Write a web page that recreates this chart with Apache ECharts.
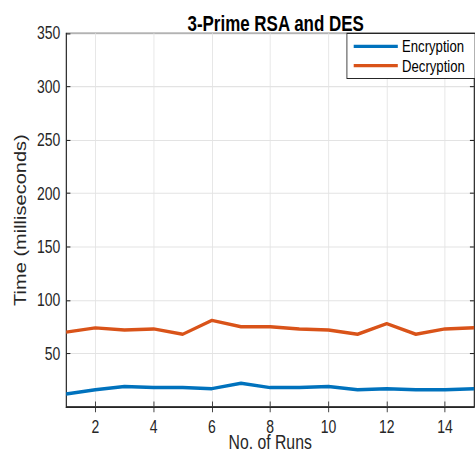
<!DOCTYPE html>
<html><head><meta charset="utf-8">
<script src="https://cdn.jsdelivr.net/npm/echarts@6/dist/echarts.min.js"></script>
<style>
html,body{margin:0;padding:0;background:#fff;overflow:hidden;width:475px;height:452px}
#c{width:560px;height:420px;transform:scale(0.848214,1.076190);transform-origin:0 0}
</style>
</head><body><div id="c"></div>
<script>
const runs = [1,2,3,4,5,6,7,8,9,10,11,12,13,14,15];
const encryption = [12,16,19,18,18,17,22,18,18,19,16,17,16,16,17];
const decryption = [70,74,72,73,68,81,75,75,73,72,68,78,68,73,74];
const xTicks = [2,4,6,8,10,12,14];
const yTicks = [50,100,150,200,250,300,350];

const txt = '#262626';
const font = 'Liberation Sans, Arial, Helvetica, sans-serif';
const chart = echarts.init(document.getElementById('c'), null, { renderer: 'svg', width: 560, height: 420 });
chart.setOption({
  animation: false,
  title: { text: '3-Prime RSA and DES', left: 320, textAlign: 'center', top: 7,
    textStyle: { fontFamily: font, fontSize: 20, fontWeight: 'bold', color: '#000' } },
  grid: { left: 78, right: 1, top: 31, bottom: 42, show: true, borderColor: txt, borderWidth: 1,
    backgroundColor: 'transparent', containLabel: false, outerBoundsMode: 'none' },
  legend: {
    left: 409, top: 31, orient: 'vertical',
    backgroundColor: '#fff', borderColor: txt, borderWidth: 1,
    padding: [4, 12, 4, 8], itemGap: 2, itemWidth: 52, itemHeight: 3,
    icon: 'rect',
    textStyle: { fontFamily: font, fontSize: 15.5, lineHeight: 16, color: '#000' },
    data: ['Encryption', 'Decryption']
  },
  xAxis: [{
    type: 'value', min: 1, max: 15,
    name: 'No. of Runs', nameLocation: 'middle', nameGap: 25.5, nameMoveOverlap: false,
    nameTextStyle: { fontFamily: font, fontSize: 18.6, lineHeight: 15, color: txt },
    axisLine: { show: true, lineStyle: { color: txt } },
    axisTick: { show: true, inside: true, length: 5, customValues: xTicks, lineStyle: { color: txt } },
    axisLabel: { customValues: xTicks, fontFamily: font, fontSize: 16.5, lineHeight: 13, color: txt, margin: 12 },
    splitLine: { show: true, lineStyle: { color: '#e3e3e3' } }
  }, {
    type: 'value', min: 1, max: 15, position: 'top',
    axisLine: { show: true, lineStyle: { color: txt } },
    axisTick: { show: true, inside: true, length: 5, customValues: xTicks, lineStyle: { color: txt } },
    axisLabel: { show: false }, splitLine: { show: false }
  }],
  yAxis: [{
    type: 'value', min: 0, max: 350,
    name: 'Time (milliseconds)', nameLocation: 'middle', nameGap: 44, nameMoveOverlap: false,
    nameTextStyle: { fontFamily: font, fontSize: 18.6, color: txt },
    axisLine: { show: true, lineStyle: { color: txt } },
    axisTick: { show: true, inside: true, length: 5, customValues: yTicks, lineStyle: { color: txt } },
    axisLabel: { customValues: yTicks, fontFamily: font, fontSize: 16.5, color: txt, margin: 7 },
    splitLine: { show: true, lineStyle: { color: '#e3e3e3' } }
  }, {
    type: 'value', min: 0, max: 350, position: 'right',
    axisLine: { show: true, lineStyle: { color: txt } },
    axisTick: { show: true, inside: true, length: 5, customValues: yTicks, lineStyle: { color: txt } },
    axisLabel: { show: false }, splitLine: { show: false }
  }],
  series: [
    { name: 'Encryption', type: 'line', data: runs.map((r,i)=>[r, encryption[i]]),
      color: '#0072BD', showSymbol: false, lineStyle: { width: 3.2, color: '#0072BD' } },
    { name: 'Decryption', type: 'line', data: runs.map((r,i)=>[r, decryption[i]]),
      color: '#D95319', showSymbol: false, lineStyle: { width: 3.2, color: '#D95319' } }
  ]
});
</script></body></html>
